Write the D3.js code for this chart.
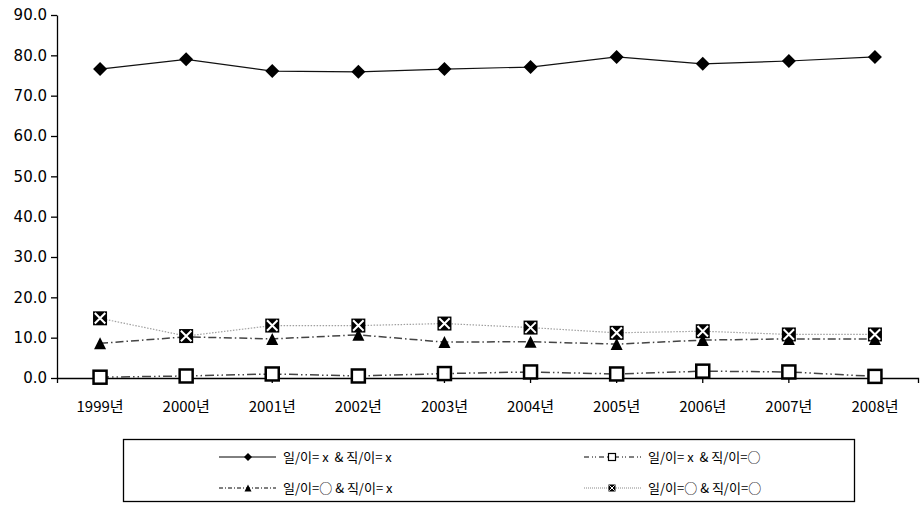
<!DOCTYPE html>
<html>
<head>
<meta charset="utf-8">
<script src="https://cdn.jsdelivr.net/npm/d3@7"></script>
<style>
  body { margin: 0; background: #fff; }
  svg { display: block; }
  .tick text { fill: #000; }
</style>
</head>
<body>
<div id="chart"></div>
<script>
// data
var years = ["1999년", "2000년", "2001년", "2002년", "2003년", "2004년", "2005년", "2006년", "2007년", "2008년"];
var seriesNames = ["일/이= x  & 직/이= x", "일/이= x  & 직/이=○", "일/이=○ & 직/이= x", "일/이=○ & 직/이=○"];
var noNo   = [76.6, 79.0, 76.1, 75.9, 76.6, 77.1, 79.6, 77.9, 78.6, 79.6];
var noYes  = [0.2, 0.5, 1.0, 0.5, 1.1, 1.5, 1.0, 1.7, 1.5, 0.4];
var yesNo  = [8.6, 10.2, 9.7, 10.7, 8.9, 9.0, 8.4, 9.4, 9.7, 9.7];
var yesYes = [14.8, 10.4, 13.0, 13.0, 13.5, 12.5, 11.2, 11.6, 10.8, 10.8];
var yTicks = [0, 10, 20, 30, 40, 50, 60, 70, 80, 90];

var svgWidth = 924, svgHeight = 508;
var plot = { left: 57, right: 918, top: 15, bottom: 378 };

var svg = d3.select("#chart").append("svg")
  .attr("width", svgWidth)
  .attr("height", svgHeight);

var x = d3.scaleBand().domain(years).range([plot.left, plot.right]).padding(0);
var y = d3.scaleLinear().domain([0, 90]).range([plot.bottom, plot.top]);
var cx = function(d, i) { return x(years[i]) + x.bandwidth() / 2; };

// axes
var yAxis = svg.append("g")
  .attr("transform", "translate(" + plot.left + ",0)")
  .call(d3.axisLeft(y).tickValues(yTicks).tickFormat(d3.format(".1f")).tickSize(6).tickSizeOuter(0).tickPadding(4));
yAxis.selectAll("text").style("font-family", "DejaVu Sans").style("font-size", "15px");

var xAxis = svg.append("g")
  .attr("transform", "translate(0," + plot.bottom + ")")
  .call(d3.axisBottom(x).tickSize(5).tickSizeOuter(5).tickPadding(18));
xAxis.selectAll("text").style("font-family", "Noto Sans CJK KR").style("font-size", "15px");
svg.selectAll(".domain, .tick line").attr("stroke", "#000").attr("stroke-width", 1.3);

// marker shapes
function diamond(g, s) {
  g.append("path").attr("d", "M0," + (-s) + "L" + s + ",0L0," + s + "L" + (-s) + ",0Z").attr("fill", "#000");
}
function square(g, s) {
  g.append("rect").attr("x", -s).attr("y", -s).attr("width", 2 * s).attr("height", 2 * s)
    .attr("fill", "#fff").attr("stroke", "#000").attr("stroke-width", s > 4 ? 2.5 : 1.2);
}
function triangle(g, s) {
  g.append("path").attr("d", "M0," + (-s) + "L" + s + "," + s + "L" + (-s) + "," + s + "Z").attr("fill", "#000");
}
function xbox(g, s) {
  g.append("rect").attr("x", -s).attr("y", -s).attr("width", 2 * s).attr("height", 2 * s).attr("fill", "#000");
  var k = s * 0.75;
  g.append("path").attr("d", "M" + (-k) + "," + (-k) + "L" + k + "," + k + "M" + k + "," + (-k) + "L" + (-k) + "," + k)
    .attr("stroke", "#fff").attr("stroke-width", s > 4 ? 2 : 1);
}

var series = [
  { values: noNo,   stroke: "#111", width: 1.2, dash: null,          marker: diamond,  size: 7 },
  { values: noYes,  stroke: "#444", width: 1.5, dash: "9,3,1.5,3,1.5,3", marker: square, size: 6.5 },
  { values: yesNo,  stroke: "#444", width: 1.5, dash: "8,3,1.5,3",   marker: triangle, size: 6 },
  { values: yesYes, stroke: "#a0a0a0", width: 1.2, dash: "1.5,1.5",  marker: xbox,     size: 7 }
];

var line = d3.line().x(cx).y(function(d) { return y(d); });

series.forEach(function(s) {
  svg.append("path")
    .datum(s.values)
    .attr("d", line)
    .attr("fill", "none")
    .attr("stroke", s.stroke)
    .attr("stroke-width", s.width)
    .attr("stroke-dasharray", s.dash);
  svg.append("g").selectAll("g")
    .data(s.values)
    .enter().append("g")
    .attr("transform", function(d, i) { return "translate(" + cx(d, i) + "," + y(d) + ")"; })
    .each(function() { s.marker(d3.select(this), s.size); });
});

// legend
svg.append("rect")
  .attr("x", 123.5).attr("y", 439.5).attr("width", 731).attr("height", 62)
  .attr("fill", "#fff").attr("stroke", "#000").attr("stroke-width", 1.3);

var legendPos = [
  { x: 219, y: 457 }, { x: 584, y: 457 },
  { x: 219, y: 488 }, { x: 584, y: 488 }
];
var legendDash = [null, "5,3,1,2,1,3", "4,2,1,2", "1,1"];

series.forEach(function(s, i) {
  var p = legendPos[i];
  var g = svg.append("g").attr("transform", "translate(" + p.x + "," + p.y + ")");
  g.append("line").attr("x1", 0).attr("x2", 57).attr("y1", 0).attr("y2", 0)
    .attr("stroke", i === 3 ? "#888" : "#000").attr("stroke-width", 1)
    .attr("stroke-dasharray", legendDash[i]);
  var m = g.append("g").attr("transform", "translate(" + (i % 2 === 0 ? 29 : 28) + ",0)");
  s.marker(m, i === 0 ? 4 : 3.5);
  g.append("text")
    .attr("x", 64).attr("y", 0).attr("dy", "0.35em")
    .style("font-family", "Noto Sans CJK KR").style("font-size", "13px")
    .style("white-space", "pre")
    .text(seriesNames[i]);
});
</script>
</body>
</html>
